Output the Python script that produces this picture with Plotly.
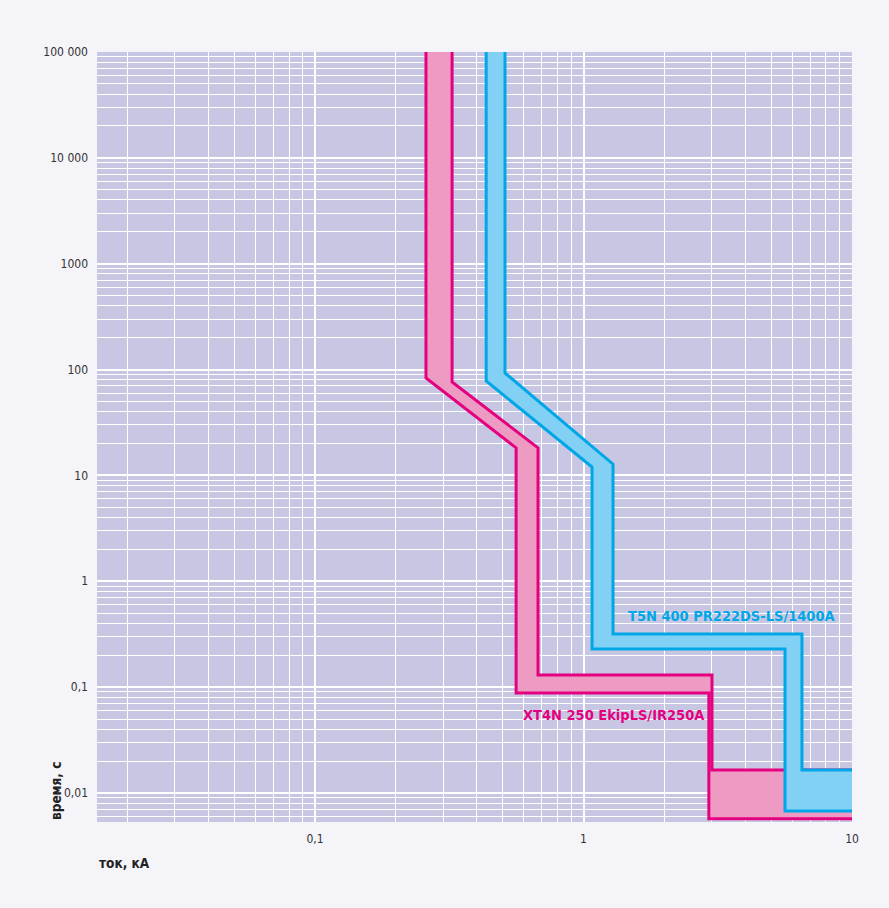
import plotly.graph_objects as go

# Time-current characteristics (current in kA, trip time in s)
# XT4N 250 Ekip LS/I, Ir = 250 A
xt4n_lower_current = [0.259, 0.259, 0.561, 0.561, 2.93, 2.93, 20]
xt4n_lower_time = [1e6, 83.2, 18.2, 0.088, 0.088, 0.0057, 0.0057]
xt4n_upper_current = [0.324, 0.324, 0.677, 0.677, 3.01, 3.01, 20]
xt4n_upper_time = [1e6, 76.3, 18.2, 0.130, 0.130, 0.0165, 0.0165]

# T5N 400 PR222DS-LS, 1400 A
t5n_lower_current = [0.434, 0.434, 1.076, 1.076, 5.63, 5.63, 20]
t5n_lower_time = [1e6, 78.0, 12.0, 0.229, 0.229, 0.00676, 0.00676]
t5n_upper_current = [0.510, 0.510, 1.288, 1.288, 6.51, 6.51, 20]
t5n_upper_time = [1e6, 92.9, 12.8, 0.318, 0.318, 0.0165, 0.0165]

x_tick_vals = [0.1, 1, 10]
x_tick_text = ["0,1", "1", "10"]
y_tick_vals = [0.01, 0.1, 1, 10, 100, 1000, 10000, 100000]
y_tick_text = ["0,01", "0,1", "1", "10", "100", "1000", "10 000", "100 000"]

label_xt4n = "XT4N 250 EkipLS/IR250A"
label_t5n = "T5N 400 PR222DS-LS/1400A"

PINK_LINE, PINK_FILL = "#e5007f", "#ee9bc3"
BLUE_LINE, BLUE_FILL = "#00a7e7", "#82d1f5"
NARROW = "DejaVu Sans Condensed, Liberation Sans Narrow, sans-serif"


def band(lo_x, lo_y, hi_x, hi_y, line, fill, name):
    return go.Scatter(
        x=lo_x + hi_x[::-1],
        y=lo_y + hi_y[::-1],
        mode="lines",
        fill="toself",
        fillcolor=fill,
        line=dict(color=line, width=3),
        name=name,
        hoverinfo="skip",
        showlegend=False,
    )


fig = go.Figure()
fig.add_trace(band(xt4n_lower_current, xt4n_lower_time, xt4n_upper_current,
                   xt4n_upper_time, PINK_LINE, PINK_FILL, label_xt4n))
fig.add_trace(band(t5n_lower_current, t5n_lower_time, t5n_upper_current,
                   t5n_upper_time, BLUE_LINE, BLUE_FILL, label_t5n))

# minor grid at 2..9 of every decade
x_minor = [m * 10 ** k for k in range(-2, 1) for m in range(2, 10)]
y_minor = [m * 10 ** k for k in range(-3, 5) for m in range(2, 10)]

fig.add_annotation(x=0.1584, y=-0.328, xref="x", yref="y", text=f"<b>{label_t5n}</b>",
                   showarrow=False, xanchor="left", yanchor="middle",
                   font=dict(family=NARROW, size=14.5, color=BLUE_LINE))
fig.add_annotation(x=-0.2328, y=-1.263, xref="x", yref="y", text=f"<b>{label_xt4n}</b>",
                   showarrow=False, xanchor="left", yanchor="middle",
                   font=dict(family=NARROW, size=14.5, color=PINK_LINE))

fig.add_annotation(x=0, y=0, xref="paper", yref="paper", yshift=-41,
                   text="<b>ток, кА</b>", showarrow=False, xanchor="left", yanchor="middle",
                   font=dict(family=NARROW, size=13.5, color="#222222"))
fig.add_annotation(x=0, y=0, xref="paper", yref="paper", xshift=-41,
                   text="<b>время, с</b>", textangle=-90, showarrow=False,
                   xanchor="center", yanchor="bottom",
                   font=dict(family=NARROW, size=13.5, color="#222222"))

fig.update_layout(
    width=889, height=908,
    margin=dict(l=97, r=37, t=52, b=86),
    paper_bgcolor="#f4f4f9",
    plot_bgcolor="#c7c7e4",
    showlegend=False,
    xaxis=dict(
        type="log", range=[-1.812, 1.0],
        tickmode="array", tickvals=x_tick_vals, ticktext=x_tick_text,
        showgrid=True, gridcolor="#ffffff", gridwidth=1.5,
        minor=dict(tickmode="array", tickvals=x_minor, showgrid=True,
                   gridcolor="#ffffff", gridwidth=1),
        ticks="", ticklabelstandoff=8, zeroline=False, showline=False,
        tickfont=dict(family=NARROW, size=12, color="#333333"),
    ),
    yaxis=dict(
        type="log", range=[-2.274, 5.0],
        tickmode="array", tickvals=y_tick_vals, ticktext=y_tick_text,
        showgrid=True, gridcolor="#ffffff", gridwidth=1.5,
        minor=dict(tickmode="array", tickvals=y_minor, showgrid=True,
                   gridcolor="#ffffff", gridwidth=1),
        ticks="", ticklabelstandoff=8, zeroline=False, showline=False,
        tickfont=dict(family=NARROW, size=12, color="#333333"),
    ),
)

fig.write_html("out.html")
